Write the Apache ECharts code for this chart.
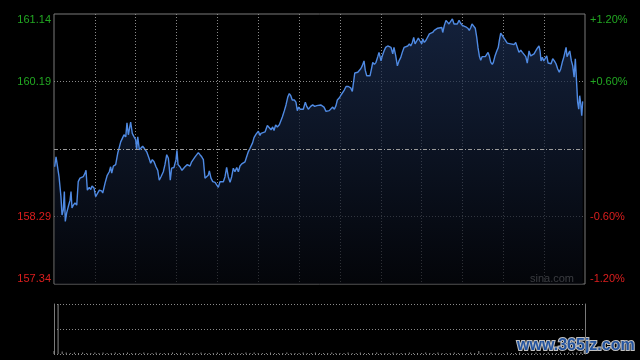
<!DOCTYPE html>
<html><head><meta charset="utf-8">
<script src="https://cdn.jsdelivr.net/npm/echarts@6/dist/echarts.min.js"></script>
<style>html,body{margin:0;padding:0;background:#000;}#c{width:640px;height:360px;}</style>
</head><body><div id="c"></div>
<script>
// minute of trading day (0 = 9:30, 390 = 16:00)
const minutes = [0.5,1.5,2.4,3.7,5.1,5.9,6.8,7.6,8.3,9.3,10.5,11.8,12.5,13.2,14.2,15.4,16.7,17.8,19.1,20.3,21.5,22.8,23.5,24.5,25.9,27.0,27.9,29.4,30.6,31.8,33.3,35.0,35.8,37.5,39.1,40.6,41.6,42.4,43.6,45.3,46.8,47.7,49.0,50.2,51.4,52.7,53.6,54.6,55.3,56.3,57.5,58.8,60.0,60.7,61.5,62.7,63.9,65.1,66.3,68.1,69.8,71.0,72.2,73.5,74.9,76.2,77.3,78.6,80.3,81.5,82.8,84.0,84.7,85.4,86.4,88.1,89.6,90.3,91.1,92.5,94.0,95.0,96.2,97.9,99.9,101.1,102.3,103.6,104.8,106.0,107.2,108.5,109.7,110.9,112.2,113.3,114.1,115.3,116.6,118.3,119.5,120.7,121.9,123.2,124.4,125.6,126.8,128.0,129.3,130.5,131.7,132.9,134.2,135.4,136.6,137.9,139.0,140.3,141.5,142.7,144.0,145.9,146.9,148.4,150.1,151.3,152.0,153.3,155.0,156.7,158.1,159.4,160.6,161.6,162.8,164.0,165.5,166.7,167.7,169.2,170.4,171.7,172.8,173.9,175.0,176.5,177.7,178.7,179.7,180.7,181.9,183.1,184.6,185.6,186.8,188.5,190.0,191.5,193.0,194.4,195.9,197.1,198.3,199.8,201.0,202.2,203.5,204.7,205.9,207.1,208.1,209.6,210.8,212.0,213.2,214.5,216.2,217.9,219.1,220.1,220.9,221.8,223.1,224.2,225.3,226.4,227.7,228.6,229.7,230.9,232.1,233.4,234.1,235.3,236.5,237.8,238.7,239.4,240.2,241.1,242.4,243.6,245.1,246.3,247.5,248.8,249.7,251.0,252.2,253.4,254.7,255.8,257.1,258.5,259.8,261.0,262.0,263.2,264.2,265.2,266.4,267.6,268.8,270.1,270.8,272.0,273.2,274.5,275.7,276.9,278.1,279.3,280.6,281.8,283.0,284.8,285.5,286.7,287.9,288.9,290.1,291.4,292.6,293.8,295.0,296.2,297.5,298.7,299.9,301.1,302.4,303.9,305.0,306.1,307.0,308.3,309.4,310.5,311.4,312.4,313.4,314.4,315.6,316.8,317.8,318.8,319.7,320.8,321.9,322.7,323.9,325.2,326.3,327.1,328.1,329.3,330.5,331.8,332.9,334.2,335.4,336.6,337.9,339.1,340.3,341.5,342.8,344.0,345.2,346.5,347.6,348.9,350.1,351.3,352.6,353.8,355.0,356.2,357.0,357.7,358.7,359.7,360.9,361.9,362.9,363.8,365.1,366.3,367.5,368.7,369.9,371.1,372.2,373.3,374.4,375.3,376.1,376.8,377.8,378.8,380.0,381.0,382.0,382.9,383.9,384.6,385.4,386.1,386.9,387.6,388.3];
const prices = [158.99,159.13,159.13,158.85,158.57,158.31,158.38,158.64,158.22,158.34,158.43,158.52,158.64,158.41,158.45,158.48,158.45,158.78,158.83,158.81,158.85,158.90,158.94,158.66,158.70,158.67,158.72,158.69,158.57,158.58,158.66,158.65,158.62,158.76,158.87,158.92,158.99,158.90,159.00,159.02,159.18,159.20,159.34,159.39,159.44,159.41,159.61,159.44,159.46,159.62,159.46,159.41,159.37,159.23,159.41,159.23,159.25,159.28,159.25,159.20,159.11,159.04,159.09,159.06,158.99,158.94,158.80,158.85,158.92,159.02,159.16,159.11,158.97,158.80,158.97,158.98,159.09,159.22,159.02,158.99,158.94,158.92,158.99,159.02,159.00,159.06,159.04,159.13,159.11,159.19,159.16,159.13,159.09,158.83,158.85,158.87,158.93,158.83,158.78,158.77,158.76,158.70,158.78,158.80,158.78,158.85,158.98,158.85,158.77,158.85,158.97,158.92,158.98,158.92,159.00,159.03,159.04,159.06,159.13,159.20,159.25,159.33,159.40,159.45,159.49,159.43,159.46,159.46,159.48,159.57,159.55,159.51,159.55,159.50,159.58,159.55,159.58,159.57,159.69,159.78,159.86,159.97,160.02,159.99,159.93,159.93,159.90,159.78,159.83,159.80,159.82,159.80,159.90,159.84,159.80,159.84,159.86,159.84,159.85,159.84,159.86,159.88,159.83,159.77,159.76,159.78,159.79,159.83,159.80,159.85,159.93,159.96,160.00,159.99,160.07,160.12,160.12,160.10,160.05,160.04,160.31,160.32,160.32,160.34,160.37,160.41,160.48,160.35,160.27,160.25,160.27,160.39,160.46,160.43,160.46,160.54,160.60,160.58,160.48,160.55,160.62,160.67,160.69,160.69,160.67,160.58,160.67,160.55,160.41,160.48,160.53,160.60,160.67,160.67,160.69,160.72,160.69,160.74,160.81,160.72,160.76,160.80,160.76,160.72,160.79,160.74,160.77,160.76,160.86,160.85,160.88,160.91,160.93,160.94,160.95,160.95,160.88,160.98,161.05,161.06,161.00,160.98,161.07,161.00,160.98,161.00,161.05,161.01,160.98,160.99,160.96,160.94,160.91,160.95,161.00,160.98,160.94,160.81,160.67,160.55,160.49,160.54,160.55,160.54,160.55,160.60,160.55,160.46,160.43,160.46,160.55,160.62,160.67,160.77,160.87,160.85,160.80,160.79,160.73,160.73,160.72,160.74,160.71,160.74,160.73,160.60,160.63,160.60,160.59,160.54,160.45,160.62,160.55,160.53,160.58,160.62,160.66,160.69,160.62,160.48,160.53,160.48,160.48,160.55,160.45,160.44,160.44,160.51,160.48,160.44,160.37,160.32,160.37,160.46,160.53,160.51,160.67,160.54,160.53,160.62,160.48,160.41,160.25,160.51,160.15,159.90,159.80,159.99,159.87,159.71,159.91];
const prevClose = 159.24;
const priceTicks = [157.34, 158.29, 159.24, 160.19, 161.14];
const leftLabels = ['157.34', '158.29', '', '160.19', '161.14'];
const pctTicks = [-1.2, -0.6, 0, 0.6, 1.2];
const rightLabels = ['-1.20%', '-0.60%', '', '+0.60%', '+1.20%'];
// volume every 3 minutes
const volMinutes = [0,3,6,9,12,15,18,21,24,27,30,33,36,39,42,45,48,51,54,57,60,63,66,69,72,75,78,81,84,87,90,93,96,99,102,105,108,111,114,117,120,123,126,129,132,135,138,141,144,147,150,153,156,159,162,165,168,171,174,177,180,183,186,189,192,195,198,201,204,207,210,213,216,219,222,225,228,231,234,237,240,243,246,249,252,255,258,261,264,267,270,273,276,279,282,285,288,291,294,297,300,303,306,309,312,315,318,321,324,327,330,333,336,339,342,345,348,351,354,357,360,363,366,369,372,375,378,381,384,387,390];
const volumes = [6,100,5,3,2,3,2,3,2,2,3,2,3,2,2,3,2,2,3,2,2,2,3,2,2,3,2,2,2,3,2,2,3,2,2,2,3,2,2,2,3,2,2,3,2,2,2,3,2,3,2,2,2,3,2,2,2,3,2,2,2,3,2,2,3,2,2,2,3,2,2,2,3,2,2,3,2,2,2,3,2,2,2,3,2,2,2,3,2,2,2,3,2,2,3,2,2,2,3,2,2,2,3,2,6,2,2,3,2,2,2,3,2,2,3,2,2,2,3,2,2,3,2,2,3,2,3,3,3,4,5];

const green = '#22a822', red = '#dd1e1e';
function tickIdx(arr, v) { return arr.findIndex(t => Math.abs(t - v) < 0.005); }

const chart = echarts.init(document.getElementById('c'), null, {renderer: 'canvas'});
const n = Math.min(minutes.length, prices.length);
const lineData = [];
for (let i = 0; i < n; i++) lineData.push([minutes[i], prices[i]]);
const volData = volumes.map((v, i) => [volMinutes[i], v]);

chart.setOption({
  animation: false,
  backgroundColor: '#000',
  grid: [
    {left: 54, right: 55, top: 14, height: 270, show: true, borderColor: '#7a7a7a', borderWidth: 1, backgroundColor: '#000'},
    {left: 54, right: 55, top: 304, height: 50}
  ],
  xAxis: [
    {gridIndex: 0, type: 'value', min: 0, max: 390, interval: 30,
     axisLine: {show: false}, axisTick: {show: false}, axisLabel: {show: false},
     splitLine: {show: true, showMinLine: false, showMaxLine: false, lineStyle: {color: '#8a8a8a', type: [1, 2], width: 1}}},
    {gridIndex: 1, type: 'value', min: 0, max: 390, interval: 30,
     axisLine: {show: false}, axisTick: {show: false}, axisLabel: {show: false}, splitLine: {show: false}}
  ],
  yAxis: [
    {gridIndex: 0, type: 'value', position: 'left', min: priceTicks[0], max: priceTicks[4], interval: 0.95,
     axisLine: {show: false}, axisTick: {show: false},
     axisLabel: {fontSize: 11, fontFamily: 'Liberation Sans, Arial, sans-serif', margin: 3,
       verticalAlignMaxLabel: 'top', verticalAlignMinLabel: 'bottom',
       formatter: v => { const i = tickIdx(priceTicks, v); return i < 0 ? '' : leftLabels[i]; },
       color: v => (v > prevClose ? green : red)},
     splitLine: {show: true, lineStyle: {color: ['rgba(0,0,0,0)', '#8a8a8a', 'rgba(0,0,0,0)', '#8a8a8a', 'rgba(0,0,0,0)'], type: [1, 2], width: 1}}},
    {gridIndex: 0, type: 'value', position: 'right', min: pctTicks[0], max: pctTicks[4], interval: 0.6,
     axisLine: {show: false}, axisTick: {show: false}, splitLine: {show: false},
     axisLabel: {fontSize: 11, fontFamily: 'Liberation Sans, Arial, sans-serif', margin: 5,
       verticalAlignMaxLabel: 'top', verticalAlignMinLabel: 'bottom',
       formatter: v => { const i = tickIdx(pctTicks, v); return i < 0 ? '' : rightLabels[i]; },
       color: v => (v > 0 ? green : red)}},
    {gridIndex: 1, type: 'value', position: 'left', min: 0, max: 100, interval: 50,
     axisLine: {show: true, lineStyle: {color: '#7a7a7a', width: 1}}, axisTick: {show: false}, axisLabel: {show: false},
     splitLine: {show: true, lineStyle: {color: '#8a8a8a', type: [1, 2], width: 1}}},
    {gridIndex: 1, type: 'value', position: 'right', min: 0, max: 100, interval: 50,
     axisLine: {show: true, lineStyle: {color: '#7a7a7a', width: 1}}, axisTick: {show: false}, axisLabel: {show: false},
     splitLine: {show: false}}
  ],
  series: [
    {type: 'line', xAxisIndex: 0, yAxisIndex: 0, data: lineData, showSymbol: false, symbol: 'none',
     lineStyle: {color: '#4f8ae3', width: 1.4},
     areaStyle: {color: new echarts.graphic.LinearGradient(0, 0, 0, 1, [
       {offset: 0, color: '#1c2f54'}, {offset: 1, color: '#05070d'}])},
     markLine: {silent: true, symbol: 'none', label: {show: false},
       lineStyle: {color: '#9a9a9a', type: [4, 2, 1, 2], width: 1},
       data: [{yAxis: prevClose}]}},
    {type: 'bar', xAxisIndex: 1, yAxisIndex: 2, data: volData, barWidth: 1,
     itemStyle: {color: '#8a8a8a'}}
  ],
  graphic: [
    {type: 'text', right: 66, top: 273, style: {text: 'sina.com', fill: '#b0b0b0', font: '11px "Liberation Sans", Arial, sans-serif'}},
    {type: 'text', left: 516, top: 337, style: {text: 'www.365jz.com', fill: '#24549f', stroke: '#c0c0c0', lineWidth: 2, font: 'bold 16px "Liberation Sans", Arial, sans-serif'}}
  ]
});
</script>
</body></html>
